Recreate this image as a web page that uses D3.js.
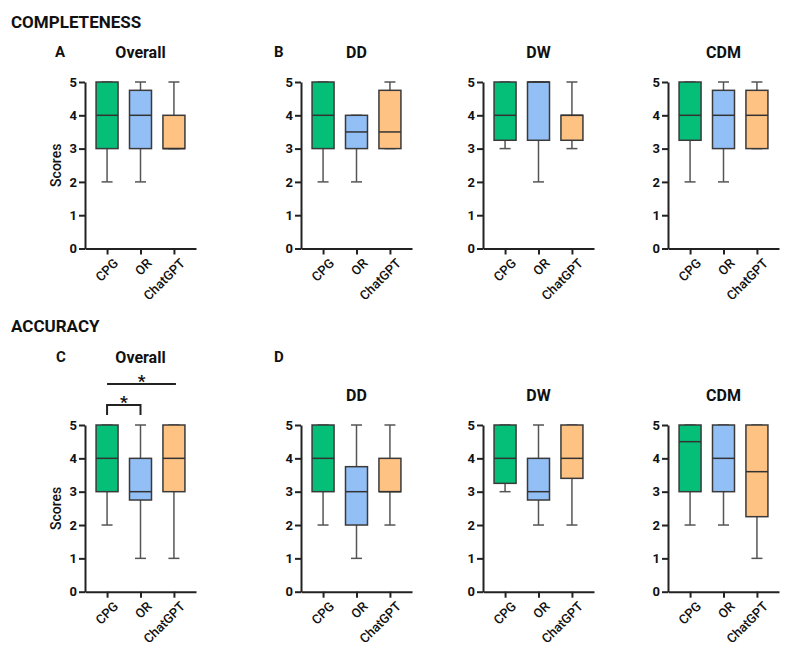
<!DOCTYPE html>
<html>
<head>
<meta charset="utf-8">
<script src="https://cdn.jsdelivr.net/npm/d3@7"></script>
<style>
  body { margin: 0; background: #fff; }
  text { font-family: Roboto, "DejaVu Sans", sans-serif; fill: #111; }
</style>
</head>
<body>
<script>
// groups compared in every panel
const groups = ["CPG", "OR", "ChatGPT"];
const colours = ["#05bf78", "#93bff7", "#fec283"];
const yTicks = [0, 1, 2, 3, 4, 5];

// box stats per group: [min, q1, median, q3, max]
const complOverall = [[2, 3, 4, 5, 5], [2, 3, 4, 4.75, 5], [3, 3, 3, 4, 5]];
const complDD = [[2, 3, 4, 5, 5], [2, 3, 3.5, 4, 4], [3, 3, 3.5, 4.75, 5]];
const complDW = [[3, 3.25, 4, 5, 5], [2, 3.25, 5, 5, 5], [3, 3.25, 4, 4, 5]];
const complCDM = [[2, 3.25, 4, 5, 5], [2, 3, 4, 4.75, 5], [3, 3, 4, 4.75, 5]];

const accOverall = [[2, 3, 4, 5, 5], [1, 2.75, 3, 4, 5], [1, 3, 4, 5, 5]];
const accDD = [[2, 3, 4, 5, 5], [1, 2, 3, 3.75, 5], [2, 3, 3, 4, 5]];
const accDW = [[3, 3.25, 4, 5, 5], [2, 2.75, 3, 4, 5], [2, 3.4, 4, 5, 5]];
const accCDM = [[2, 3, 4.5, 5, 5], [2, 3, 4, 5, 5], [1, 2.25, 3.6, 5, 5]];

// significance marks on accuracy overall
const accOverallSig = [
    { from: "CPG", to: "OR", label: "*", bracket: true },
    { from: "CPG", to: "ChatGPT", label: "*", bracket: false },
];

const width = 800;
const height = 669;

const svg = d3
    .select("body")
    .append("svg")
    .attr("width", width)
    .attr("height", height);

// section headings
svg.append("text").attr("x", 11).attr("y", 28)
    .attr("font-size", 17).attr("font-weight", 700)
    .text("COMPLETENESS");
svg.append("text").attr("x", 11).attr("y", 332)
    .attr("font-size", 17).attr("font-weight", 700)
    .text("ACCURACY");

const rows = [
    { top: 82, bottom: 248.5, titleY: 58, letterY: 57 },
    { top: 425, bottom: 591.7, titleY: 401, letterY: 362 },
];

const panels = [
    { row: 0, x: 85, title: "Overall", letter: "A", letterX: 55, data: complOverall, yLabel: true },
    { row: 0, x: 301, title: "DD", letter: "B", letterX: 274, data: complDD },
    { row: 0, x: 483, title: "DW", data: complDW },
    { row: 0, x: 668, title: "CDM", data: complCDM },
    { row: 1, x: 85, title: "Overall", letter: "C", letterX: 56, data: accOverall, yLabel: true, sig: accOverallSig, titleY: 363 },
    { row: 1, x: 301, title: "DD", letter: "D", letterX: 274, data: accDD },
    { row: 1, x: 483, title: "DW", data: accDW },
    { row: 1, x: 668, title: "CDM", data: accCDM },
];

const boxW = 22;
const capW = 11;

panels.forEach((p) => {
    const r = rows[p.row];
    const g = svg.append("g");

    const x = d3.scalePoint().domain(groups).range([p.x, p.x + 111]).padding(0.66);
    const y = d3.scaleLinear().domain([0, 5]).range([r.bottom, r.top]);

    // y axis
    const ya = g.append("g")
        .attr("transform", `translate(${p.x},0)`)
        .call(d3.axisLeft(y).tickValues(yTicks).tickFormat(d3.format("d")).tickSize(6).tickSizeOuter(0));
    ya.select(".domain").attr("stroke", "#222").attr("stroke-width", 2);
    ya.selectAll(".tick line").attr("stroke", "#222").attr("stroke-width", 2);
    ya.selectAll(".tick text")
        .attr("font-size", 13).attr("font-weight", 700).attr("fill", "#222")
        .attr("font-family", "Roboto, sans-serif").attr("x", -8);

    // x axis
    const xa = g.append("g")
        .attr("transform", `translate(0,${r.bottom})`)
        .call(d3.axisBottom(x).tickSize(6).tickSizeOuter(0));
    xa.select(".domain").attr("stroke", "#222").attr("stroke-width", 2);
    xa.selectAll(".tick line").attr("stroke", "#222").attr("stroke-width", 2);
    xa.selectAll(".tick text")
        .attr("font-size", 13).attr("font-weight", 500).attr("fill", "#111")
        .attr("font-family", "Roboto, sans-serif")
        .attr("text-anchor", "end")
        .attr("transform", "translate(5,9) rotate(-45)")
        .attr("y", 0).attr("x", 0).attr("dy", "0.71em");

    // whiskers
    const boxes = g.selectAll(".box")
        .data(p.data.map((s, i) => ({ group: groups[i], s: s, c: colours[i] })))
        .join("g");

    boxes.append("line")
        .attr("x1", (d) => x(d.group)).attr("x2", (d) => x(d.group))
        .attr("y1", (d) => y(d.s[0])).attr("y2", (d) => y(d.s[4]))
        .attr("stroke", "#555").attr("stroke-width", 1.5);
    boxes.selectAll(".cap")
        .data((d) => [d.s[0], d.s[4]].map((v) => ({ v: v, group: d.group })))
        .join("line")
        .attr("x1", (d) => x(d.group) - capW / 2).attr("x2", (d) => x(d.group) + capW / 2)
        .attr("y1", (d) => y(d.v)).attr("y2", (d) => y(d.v))
        .attr("stroke", "#555").attr("stroke-width", 1.5);

    boxes.append("rect")
        .attr("x", (d) => x(d.group) - boxW / 2)
        .attr("width", boxW)
        .attr("y", (d) => y(d.s[3]))
        .attr("height", (d) => y(d.s[1]) - y(d.s[3]))
        .attr("fill", (d) => d.c)
        .attr("stroke", "#3a3a3a").attr("stroke-width", 1.5);

    boxes.append("line")
        .attr("x1", (d) => x(d.group) - boxW / 2).attr("x2", (d) => x(d.group) + boxW / 2)
        .attr("y1", (d) => y(d.s[2])).attr("y2", (d) => y(d.s[2]))
        .attr("stroke", "#333").attr("stroke-width", 1.5);

    // titles
    g.append("text")
        .attr("x", x(groups[1])).attr("y", p.titleY || r.titleY)
        .attr("text-anchor", "middle")
        .attr("font-size", 16).attr("font-weight", 700)
        .text(p.title);
    if (p.letter) {
        g.append("text")
            .attr("x", p.letterX).attr("y", r.letterY)
            .attr("font-size", 15).attr("font-weight", 700)
            .text(p.letter);
    }
    if (p.yLabel) {
        g.append("text")
            .attr("transform", `translate(61,${(r.top + r.bottom) / 2}) rotate(-90)`)
            .attr("text-anchor", "middle")
            .attr("font-size", 14).attr("font-weight", 500)
            .text("Scores");
    }

    // significance annotations
    if (p.sig) {
        p.sig.forEach((s) => {
            const x1 = x(s.from);
            const x2 = x(s.to) + (s.bracket ? 0 : 2);
            const ly = s.bracket ? 405 : 384;
            const path = s.bracket
                ? `M${x1},${ly + 10}V${ly}H${x2}V${ly + 10}`
                : `M${x1},${ly}H${x2}`;
            g.append("path").attr("d", path)
                .attr("fill", "none").attr("stroke", "#222").attr("stroke-width", 2);
            g.append("text")
                .attr("x", (x1 + x2) / 2).attr("y", ly + 3)
                .attr("text-anchor", "middle")
                .attr("font-size", 17).attr("font-weight", 700)
                .text(s.label);
        });
    }
});
</script>
</body>
</html>
